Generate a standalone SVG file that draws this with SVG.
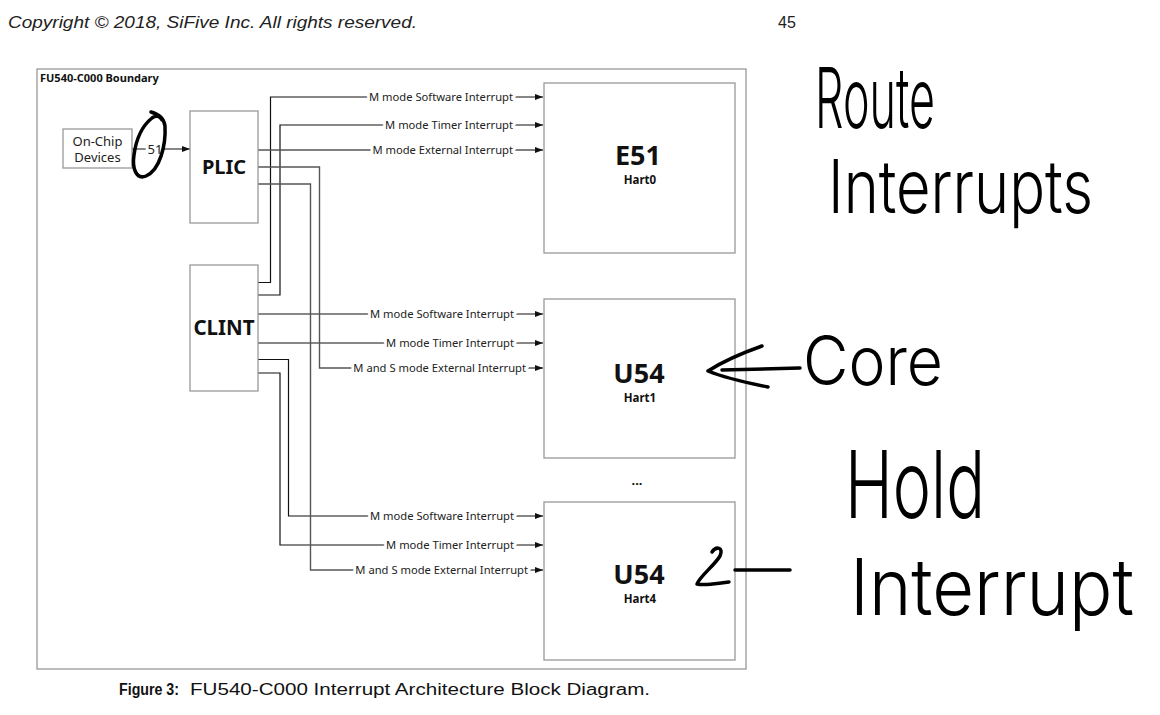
<svg xmlns="http://www.w3.org/2000/svg" width="1160" height="715" viewBox="0 0 1160 715">
<style>
.box{fill:#fff;stroke:#999;stroke-width:1.3}
.wc{fill:none;stroke:#111;stroke-width:1.2}
.wp{fill:none;stroke:#555;stroke-width:1.4}
.lbl{font-family:"Noto Sans","Open Sans",sans-serif;font-size:11.2px;fill:#222;text-anchor:end;stroke:#fff;stroke-width:6;paint-order:stroke;stroke-linejoin:round}
.big{font-family:"Noto Sans","Open Sans",sans-serif;font-weight:bold;fill:#111;text-anchor:middle}
.hw{font-family:Inter,"Open Sans",sans-serif;font-weight:300;fill:#000}
.ink{fill:none;stroke:#000;stroke-width:3.5;stroke-linecap:round;stroke-linejoin:round}
</style>
<defs>
<marker id="ah" markerWidth="8" markerHeight="6" refX="8" refY="3" orient="auto" markerUnits="userSpaceOnUse"><path d="M0,0 L8,3 L0,6 z" fill="#111"/></marker>
</defs>
<rect width="1160" height="715" fill="#fff"/>
<text x="8" y="28" font-family="Liberation Sans,Arial,sans-serif" font-style="italic" font-size="16" fill="#222" textLength="409" lengthAdjust="spacingAndGlyphs">Copyright © 2018, SiFive Inc. All rights reserved.</text>
<text x="778" y="28" font-family="Liberation Sans,Arial,sans-serif" font-size="16" fill="#222">45</text>

<g id="boundary">
<rect class="box" x="37" y="69" width="709" height="600"/>
<text x="40" y="82" font-family="Noto Sans,Open Sans,sans-serif" font-weight="bold" font-size="11" fill="#111">FU540-C000 Boundary</text>
</g>

<g id="connectors">
<path class="wc" d="M132,149 H190" marker-end="url(#ah)"/>
<path class="wc" d="M258,282.5 H270.5 V97 H543" marker-end="url(#ah)"/>
<path class="wc" d="M258,295 H280 V125 H543" marker-end="url(#ah)"/>
<path class="wc" d="M258,314 H543" marker-end="url(#ah)"/>
<path class="wc" d="M258,343 H543" marker-end="url(#ah)"/>
<path class="wc" d="M258,359.5 H288.5 V516 H543" marker-end="url(#ah)"/>
<path class="wc" d="M258,373 H280 V545 H543" marker-end="url(#ah)"/>
<path class="wp" d="M258,150 H543" marker-end="url(#ah)"/>
<path class="wp" d="M258,167 H319.5 V368 H543" marker-end="url(#ah)"/>
<path class="wp" d="M258,184 H310.5 V570 H543" marker-end="url(#ah)"/>
<text x="155" y="154" font-family="Noto Sans,Open Sans,sans-serif" font-size="13" fill="#222" text-anchor="middle" stroke="#fff" stroke-width="5" paint-order="stroke">51</text>
<text class="lbl" x="513" y="101">M mode Software Interrupt</text>
<text class="lbl" x="513" y="129">M mode Timer Interrupt</text>
<text class="lbl" x="513" y="154">M mode External Interrupt</text>
<text class="lbl" x="514" y="318">M mode Software Interrupt</text>
<text class="lbl" x="514" y="347">M mode Timer Interrupt</text>
<text class="lbl" x="526" y="372">M and S mode External Interrupt</text>
<text class="lbl" x="514" y="520">M mode Software Interrupt</text>
<text class="lbl" x="514" y="549">M mode Timer Interrupt</text>
<text class="lbl" x="528" y="574">M and S mode External Interrupt</text>
</g>

<g id="onchip">
<rect class="box" x="63" y="129" width="69" height="39"/>
<text x="97.5" y="146" font-family="Noto Sans,Open Sans,sans-serif" font-size="13" fill="#222" text-anchor="middle">On-Chip</text>
<text x="97.5" y="162" font-family="Noto Sans,Open Sans,sans-serif" font-size="13" fill="#222" text-anchor="middle">Devices</text>
</g>

<g id="plic">
<rect class="box" x="190" y="111" width="68" height="112"/>
<text class="big" x="224" y="174" font-size="20">PLIC</text>
</g>

<g id="clint">
<rect class="box" x="190" y="265" width="68" height="126"/>
<text class="big" x="224" y="335" font-size="20.5">CLINT</text>
</g>

<g id="e51">
<rect class="box" x="544" y="83" width="191" height="170"/>
<text class="big" x="638" y="165" font-size="27">E51</text>
<text class="big" x="640" y="184" font-size="11.5">Hart0</text>
</g>

<g id="u54-hart1">
<rect class="box" x="544" y="299" width="191" height="159"/>
<text class="big" x="639" y="383" font-size="27">U54</text>
<text class="big" x="640" y="402" font-size="11.5">Hart1</text>
</g>

<text class="big" x="637" y="485" font-size="13">...</text>

<g id="u54-hart4">
<rect class="box" x="544" y="502" width="191" height="158"/>
<text class="big" x="639" y="584" font-size="27">U54</text>
<text class="big" x="640" y="603" font-size="11.5">Hart4</text>
</g>

<text font-family="Liberation Sans,Arial,sans-serif" font-size="16" fill="#111"><tspan x="119" y="695" font-weight="bold" textLength="60" lengthAdjust="spacingAndGlyphs">Figure 3:</tspan><tspan x="190" y="695" textLength="460" lengthAdjust="spacingAndGlyphs">FU540-C000 Interrupt Architecture Block Diagram.</tspan></text>

<g id="annotations">
<path class="ink" d="M151,112 C158,114 164,118 165,126 C166,145 160,170 146,176 C136,180 132,168 134,155 C136,140 142,126 152,118 C156,115 160,116 162,120"/>
<path class="ink" d="M762,346 C745,352 722,362 708,371 C725,378 748,383 768,387"/>
<path class="ink" d="M722,370 L800,368"/>
<path class="ink" d="M712,552 C716,546 724,547 720,556 C714,566 700,576 697,584 C706,586 718,583 729,582"/>
<path class="ink" d="M735,570 L790,570"/>
<text class="hw" x="815" y="128" font-size="84" textLength="120" lengthAdjust="spacingAndGlyphs">Route</text>
<text class="hw" x="828" y="213" font-size="74" textLength="265" lengthAdjust="spacingAndGlyphs">Interrupts</text>
<text class="hw" x="803" y="385" font-size="68" textLength="140" lengthAdjust="spacingAndGlyphs">Core</text>
<text class="hw" x="845" y="518" font-size="94" textLength="140" lengthAdjust="spacingAndGlyphs">Hold</text>
<text class="hw" x="850" y="615" font-size="78" textLength="284" lengthAdjust="spacingAndGlyphs">Interrupt</text>
</g>
</svg>
